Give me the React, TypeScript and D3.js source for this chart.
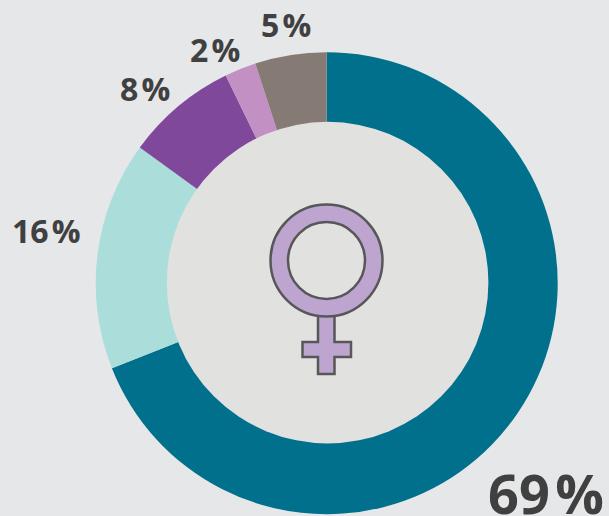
import React from "react";
import * as d3 from "d3";

const categories = ["a", "b", "c", "d", "e"];
const values = [69, 16, 7.8, 2.2, 5];
const colors = ["#00708c", "#abdedb", "#80489b", "#c290c2", "#857a74"];
const labelNumbers = ["69", "16", "8", "2", "5"];
const labelX = [488, 12, 120, 190, 261];
const labelY = [514, 243, 101, 62, 37];
const labelSizes = [54, 32, 32, 32, 32];

const W = 609, H = 516;
const cx = 326.7, cy = 283.2, R = 231;
const holeX = 327.6, holeY = 282.6, holeR = 160.8;

export default function App() {
  const pie = d3.pie<number>().sort(null).value((d) => d);
  const arcs = pie(values);
  const arc = d3.arc<d3.PieArcDatum<number>>().innerRadius(0).outerRadius(R);
  const ringOuter = 56, ringInner = 38.5, scx = 326.5, scy = 260.5;
  const ring = `M${scx - ringOuter},${scy}a${ringOuter},${ringOuter} 0 1,0 ${2 * ringOuter},0a${ringOuter},${ringOuter} 0 1,0 ${-2 * ringOuter},0Z` +
    `M${scx - ringInner},${scy}a${ringInner},${ringInner} 0 1,1 ${2 * ringInner},0a${ringInner},${ringInner} 0 1,1 ${-2 * ringInner},0Z`;
  const cross = "M318,315V342H302.5V357H318V374H334.5V357H351V342H334.5V315Z";
  return (
    <svg width={W} height={H} viewBox={`0 0 ${W} ${H}`} style={{ position: "absolute", left: 0, top: 0, display: "block" }}>
      <rect width={W} height={H} fill="#e5e7e9" />
      <g transform={`translate(${cx},${cy})`}>
        {arcs.map((a, i) => (
          <path key={categories[i]} d={arc(a) || ""} fill={colors[i]} />
        ))}
      </g>
      <circle cx={holeX} cy={holeY} r={holeR} fill="#e1e2e0" />
      <path d={cross} fill="#bda5d0" stroke="#57575a" strokeWidth={2.5} />
      <path d={ring} fill="#bda5d0" fillRule="evenodd" stroke="#57575a" strokeWidth={2.5} />
      {labelNumbers.map((n, i) => (
        <text key={n} x={labelX[i]} y={labelY[i]} fontFamily="'Open Sans', sans-serif" fontWeight={700} fontSize={labelSizes[i]} fill="#404040">
          {n}
          <tspan dx={labelSizes[i] * 0.1}>%</tspan>
        </text>
      ))}
    </svg>
  );
}
